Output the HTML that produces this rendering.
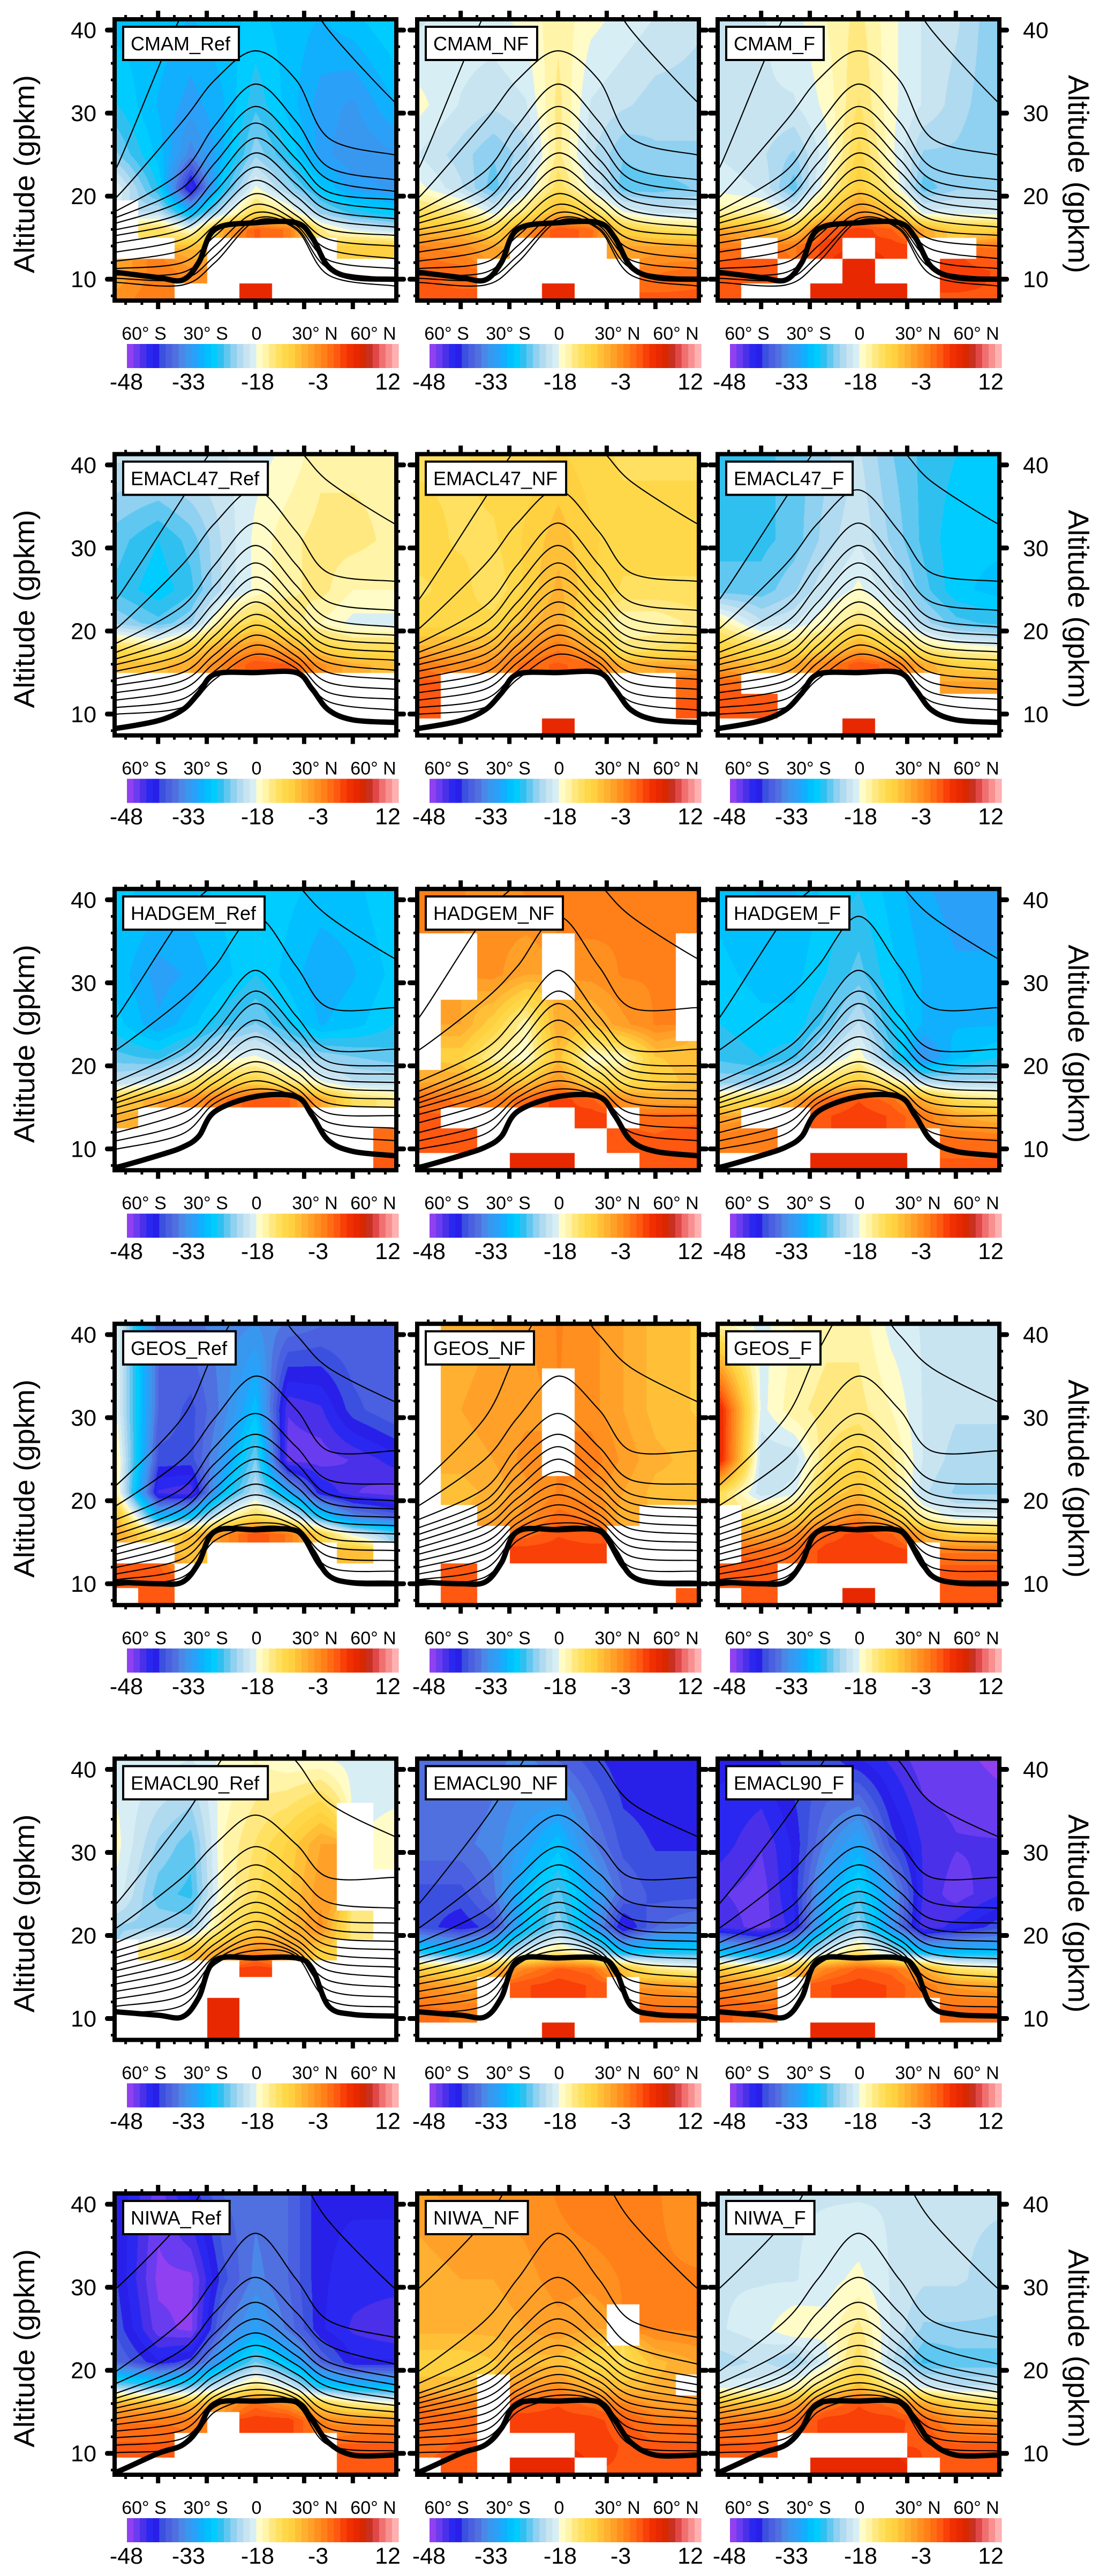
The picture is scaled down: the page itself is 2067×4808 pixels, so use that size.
<!DOCTYPE html>
<html><head><meta charset="utf-8">
<style>
html,body{margin:0;padding:0;background:#fff;}
body{width:2067px;height:4808px;position:relative;overflow:hidden;font-family:"Liberation Sans",sans-serif;}
canvas{position:absolute;}
#fig{position:absolute;left:0;top:0;}
</style></head>
<body>
<div id="canvases"></div>
<svg id="fig" width="2067" height="4808" xmlns="http://www.w3.org/2000/svg"></svg>
<script>
// ---------------- data ----------------
const N = null;
const LATS = [-85,-60,-40,-20,0,20,40,60,85];
const ALTS = [41,31,25,21,18,16,14,11,8];
const CLATS = [-85,-45,-25,0,25,45,85];
const TLATS = [-85,-60,-45,-35,-25,0,25,35,45,60,85];
const LAT_TICKS = [-60,-30,0,30,60];
const LAT_LABELS = ['60° S','30° S','0','30° N','60° N'];
const ALT_TICKS = [10,20,30,40];
const CBAR_LABELS = ['-48','-33','-18','-3','12'];
const PANEL_KINDS = ['Ref','NF','F'];

// temperature-difference fields (rows: ALTS, cols: LATS)
const CMAM_REF = [[-30,-30,-31,-30,-29,-30,-31,-30,-28],[-28,-31,-33,-31,-27,-30,-33,-34,-31],[-25,-30,-36,-31,-24,-28,-33,-35,-34],[-20,-28,-44,-28,-19,-24,-29,-33,-34],[N,-22,-30,-21,-13,-17,-24,-27,-29],[N,-14,-19,-8,-2,-4,-16,-20,-22],[N,N,-10,N,N,N,N,-12,-12],[-8,-4,-6,N,N,N,N,N,N],[-6,-4,N,N,3,N,N,N,N]];
const CMAM_NF = [[-21,-20,-20,-19,-17,-19,-20,-21,-22],[-19,-21,-22,-21,-16,-21,-22,-23,-23],[-21,-23,-25,-23,-16,-22,-25,-24,-24],[-19,-22,-26,-21,-14,-20,-26,-26,-25],[-14,-16,-20,-15,-9,-13,-19,-21,-21],[-10,-10,-13,-6,-1,-3,-12,-14,-15],[-5,-6,-8,N,N,N,-8,-8,-8],[-2,-3,N,N,N,N,N,-4,-3],[-2,-2,N,N,3,N,N,-2,-2]];
const CMAM_F = [[-21,-21,-20,-18,-16,-19,-21,-22,-25],[-21,-21,-21,-19,-15,-19,-21,-23,-25],[-21,-22,-24,-20,-13,-19,-24,-24,-25],[-20,-21,-26,-18,-11,-17,-26,-24,-24],[-17,-17,-20,-12,-6,-10,-20,-20,-20],[-8,-9,-12,-2,0,-2,-8,-12,-12],[-4,N,-4,0,N,0,N,N,-4],[-1,-1,N,N,3,N,N,0,-1],[-1,N,N,3,3,3,N,-1,-1]];
const EMACL47_REF = [[-22,-22,-21,-21,-20,-19,-17,-17,-17],[-26,-28,-26,-22,-19,-17,-16,-16,-17],[-27,-29,-27,-22,-19,-17,-16,-18,-18],[-24,-26,-24,-16,-13,-15,-18,-20,-20],[-14,-16,-12,-8,-6,-8,-12,-14,-14],[-10,-10,-8,-5,-1,-2,-6,-9,-10],[N,N,N,N,N,N,N,N,N],[N,N,N,N,N,N,N,N,N],[N,N,N,N,N,N,N,N,N]];
const EMACL47_NF = [[-14,-14,-13,-13,-12,-13,-14,-14,-14],[-13,-14,-14,-12,-10,-12,-13,-13,-13],[-14,-13,-15,-12,-9,-12,-14,-14,-14],[-13,-13,-13,-10,-8,-14,-18,-18,-16],[-9,-9,-9,-6,-4,-8,-16,-15,-13],[-4,-6,-6,-3,-2,-3,-9,-8,-8],[-2,N,N,N,N,N,N,N,-3],[-2,N,N,N,N,N,N,N,-2],[N,N,N,N,3,N,N,N,N]];
const EMACL47_F = [[-27,-27,-26,-24,-22,-25,-27,-28,-29],[-27,-27,-26,-23,-21,-24,-27,-29,-29],[-26,-26,-24,-21,-19,-22,-26,-29,-30],[-17,-22,-21,-18,-15,-18,-23,-26,-27],[-12,-14,-14,-12,-8,-12,-16,-18,-19],[-8,-10,-8,-5,-1,-3,-8,-12,-13],[-3,N,N,N,N,N,N,-8,-8],[-1,-2,N,N,N,N,N,N,N],[N,N,N,N,3,N,N,N,N]];
const HADGEM_REF = [[-29,-30,-30,-29,-28,-29,-30,-30,-28],[-30,-33,-32,-30,-28,-30,-32,-31,-29],[-29,-32,-30,-27,-25,-28,-31,-30,-28],[-26,-27,-24,-20,-19,-22,-24,-25,-26],[-22,-20,-15,-12,-12,-15,-19,-22,-22],[-12,-8,-6,-4,-1,-2,-8,-14,-16],[-9,N,N,N,N,N,N,N,N],[N,N,N,N,N,N,N,N,-3],[N,N,N,N,N,N,N,N,-2]];
const HADGEM_NF = [[-5,-5,-6,-5,-5,-4,-5,-5,-5],[N,N,-6,-8,N,-6,-5,-5,N],[N,-8,-12,-18,-8,-10,-7,-5,N],[N,-12,-17,-19,-10,-19,-18,-11,-10],[-8,-8,-11,-10,-6,-12,-14,-12,-10],[-3,-4,-5,-3,0,-2,-6,-8,-8],[-2,N,N,N,N,0,N,-3,-3],[-2,-2,N,N,N,N,-2,-2,-1],[N,N,N,3,3,N,N,-1,-1]];
const HADGEM_F = [[-30,-31,-31,-29,-28,-30,-32,-33,-33],[-29,-30,-30,-28,-26,-29,-31,-32,-32],[-28,-29,-29,-26,-22,-28,-31,-31,-31],[-27,-28,-27,-22,-18,-26,-35,-30,-28],[-24,-24,-19,-14,-11,-16,-22,-23,-23],[-15,-12,-8,-3,-1,-3,-9,-14,-16],[-8,N,N,-1,0,-1,-4,-8,-10],[-4,-4,N,N,N,N,N,-3,-3],[N,N,N,3,3,3,N,-2,-2]];
const GEOS_REF = [[-20,-38,-37,-36,-35,-37,-38,-38,-38],[-20,-38,-40,-36,-30,-45,-44,-40,-38],[-18,-40,-40,-34,-25,-46,-46,-45,-43],[-18,-44,-45,-30,-22,-32,-42,-45,-46],[-10,-30,-28,-18,-13,-18,-28,-35,-38],[-8,-14,-10,-6,-1,-4,-12,-20,-25],[N,N,-10,N,N,N,N,-10,N],[-2,-2,N,N,N,N,N,N,N],[N,-2,N,N,N,N,N,N,N]];
const GEOS_NF = [[N,-9,-8,-7,-5,-6,-8,-10,-11],[N,-8,-7,-7,N,-6,-8,-10,-11],[N,-9,-8,-6,N,-4,-7,-9,-10],[N,-10,-9,-7,-5,-6,-8,-10,-10],[N,N,-8,-6,-3,-4,-9,N,N],[N,N,N,-3,-1,-2,N,N,N],[N,N,N,0,0,0,N,N,N],[N,-2,N,N,N,N,N,N,N],[N,-2,N,N,N,N,N,N,-2]];
const GEOS_F = [[-17,-20,-18,-17,-17,-20,-21,-21,-21],[2,-20,-17,-16,-16,-18,-21,-22,-22],[2,-22,-22,-15,-13,-16,-21,-23,-23],[-14,-22,-20,-12,-10,-15,-22,-24,-24],[N,-14,-12,-8,-5,-10,-17,-20,-20],[N,-8,-6,-2,0,-2,-8,-12,-12],[N,-3,-3,0,0,0,N,-4,-4],[-1,-1,N,N,N,N,N,-1,-1],[N,-1,N,N,3,N,N,-1,-1]];
const EMACL90_REF = [[-20,-20,-21,-19,-18,-19,-19,-20,-20],[-19,-24,-26,-18,-15,-12,-8,N,-19],[-20,-26,-27,-18,-14,-11,-7,N,N],[-24,-24,-24,-15,-12,-10,-6,-16,N],[N,-14,-10,-8,-5,-7,-12,N,N],[N,N,N,N,0,N,N,N,N],[N,N,N,N,N,N,N,N,N],[N,N,N,3,N,N,N,N,N],[N,N,N,3,N,N,N,N,N]];
const EMACL90_NF = [[-38,-38,-37,-36,-38,-40,-42,-42,-42],[-37,-37,-36,-33,-30,-36,-40,-41,-41],[-40,-40,-37,-30,-26,-32,-38,-40,-40],[-40,-42,-40,-30,-24,-32,-43,-38,-36],[-28,-30,-27,-20,-16,-20,-30,-28,-28],[-12,-14,-9,-5,-2,-3,-10,-16,-18],[-6,-8,N,-1,0,-1,N,-7,-8],[-3,-4,N,N,N,N,N,-3,-3],[N,N,N,N,3,N,N,N,N]];
const EMACL90_F = [[-42,-42,-40,-40,-42,-44,-46,-46,-47],[-43,-45,-42,-36,-32,-40,-44,-45,-45],[-45,-46,-42,-32,-27,-34,-44,-46,-44],[-44,-46,-43,-30,-24,-34,-45,-43,-40],[-30,-33,-28,-20,-15,-22,-30,-30,-30],[-12,-14,-10,-5,-2,-3,-8,-15,-17],[-5,-6,N,-1,0,-1,-4,-7,-8],[-2,-3,N,N,N,N,N,-3,-3],[N,N,N,3,3,N,N,N,N]];
const NIWA_REF = [[-41,-46,-42,-38,-37,-38,-42,-42,-42],[-41,-47,-47,-40,-36,-38,-42,-43,-43],[-40,-46,-47,-37,-33,-37,-42,-44,-45],[-38,-42,-40,-32,-25,-30,-38,-42,-42],[-24,-26,-25,-20,-15,-20,-28,-30,-30],[-9,-9,-10,-7,-3,-6,-12,-16,-18],[-4,-4,-4,N,0,0,-5,-6,-6],[-2,-2,N,N,N,N,N,-2,-2],[N,N,N,N,N,N,N,-1,-1]];
const NIWA_NF = [[-7,-6,-6,-6,-5,-4,-4,-5,-6],[-9,-8,-8,-7,-6,-6,-5,-5,-5],[-9,-9,-9,-8,-7,-8,N,-5,-5],[-12,-12,-11,-10,-10,-13,-14,-10,-8],[-10,-10,N,-7,-6,-9,-10,-9,N],[-4,-5,N,-2,-1,-3,-5,-7,-8],[-3,-3,N,0,0,0,-2,-4,-4],[-3,-2,N,N,N,0,-1,-2,-2],[N,-1,N,3,3,N,-1,-1,-1]];
const NIWA_F = [[-21,-21,-21,-21,-21,-21,-22,-22,-22],[-21,-21,-21,-20,-19,-21,-22,-22,-23],[-21,-20,-18,-19,-16,-21,-24,-24,-24],[-23,-22,-24,-20,-14,-22,-27,-26,-26],[-20,-20,-18,-14,-10,-16,-20,-22,-22],[-10,-10,-8,-4,-1,-3,-8,-12,-14],[-4,-4,-3,0,0,0,-2,-6,-7],[-2,-2,N,N,N,N,-1,-2,-2],[N,N,N,3,3,3,N,-1,-1]];

// contour heights (km) at CLATS
const CONT_CMAM = [[23.7,42,46,48,46,40,31.5],[20,29,34,37.5,34,27,25],[18.3,23,28.5,33.5,29,23.5,22],[17.5,21,26,30.8,26.5,22,20.6],[16.8,19.5,24,28.8,24.5,20.5,19.6],[16,18,22,27,23,19.5,18.4],[15.3,17,20.5,25.2,21.5,18.3,17.3],[14.4,16,19,23.5,20,17.2,16.3],[13.3,14.8,17.8,21.9,18.8,16,15.3],[12.2,13.5,16.5,20.3,17.7,14.8,14],[11.3,12,15.2,19,17,13.6,12.5],[10.5,10.8,14,18,16.5,12.3,11.3],[10.1,10,12.8,17.3,16.2,11.3,10.1],[9.6,9.3,12,17,16,10.5,9.2]];
const CONT_EMACL47 = [[24,36,42,44,42,38,33],[20.4,28,33,37,32,27,26],[18.6,23,28,33,28,23.5,22.5],[17.5,21,25.5,30.3,25.5,21.5,20.5],[16.7,19.5,23.5,28.2,23.8,20.3,19.5],[16,18.3,22,26.5,22.5,19.2,18.5],[15.2,17.2,20.7,25,21.2,18.2,17.5],[14.3,16.2,19.5,23.5,20,17.2,16.5],[13.5,15,18.3,22,19,16.2,15.3],[12.6,14,17.2,20.7,18,15,14.2],[11.7,13,16.2,19.5,17,13.8,13],[10.8,11.8,15.2,18.3,16.2,12.6,11.8],[10,10.8,14.2,17.2,15.5,11.5,10.5]];
const CONT_HADGEM = [[26,38,42,47,42,38,33],[22,28,32,38,32,27,27],[18.2,22,26,31.5,26,22,22],[17,20.5,24,29,24.5,20.5,20],[16.2,19.5,22.5,27.5,23,19.5,19],[15.6,18.5,21.2,25.5,21.5,18.5,18],[15,17.5,20,23.5,20.3,17.5,17],[14.2,16.5,19,22,19.3,16.5,16],[13.2,15.5,18,20.5,18.2,15.5,15],[12,14.3,17,19.3,17.3,14.3,14],[11,13,16.2,18.2,16.6,13.2,12.5],[10,11.8,15.5,17.2,16.2,12,11]];
const CONT_GEOS = [[22,30,38,45,40,36,32],[19.5,25,30,35,31,26,26],[17.8,21.5,26.5,30.5,26.5,22.5,22],[16.8,20,24.5,28,24.5,20.8,20],[16,19,23,26.5,23,19.7,19],[15.2,18,21.5,25,21.7,18.6,18],[14.4,17,20.3,23.5,20.5,17.6,17],[13.6,16,19.2,22,19.4,16.6,16],[12.8,15,18.2,20.7,18.4,15.5,15],[12,14,17.3,19.5,17.6,14.5,14],[11.2,13,16.6,18.3,16.9,13.3,12.8],[10.5,11.8,16,17.3,16.5,12,11.5],[9.8,10.8,15.2,16.8,16.2,11,10.3]];
const CONT_EMACL90 = [[24,34,40,46,41,36,32],[21,27,31,34.5,31,27,27],[19.2,23,27,30.7,27.5,24,23.3],[18.2,21,25,28.5,25.3,22,21.5],[17.4,20,23.5,26.8,23.8,20.8,20.3],[16.6,19,22.2,25.3,22.5,19.8,19.3],[15.8,18,21,24,21.4,18.8,18.3],[15,17,20,22.8,20.4,17.8,17.2],[14.2,16,19,21.7,19.5,16.8,16.2],[13.3,15,18.2,20.7,18.8,15.8,15],[12.4,14,17.5,19.8,18.2,14.6,13.8],[11.5,12.8,17,19,17.8,13.4,12.6],[10.7,11.6,16.5,18.2,17.5,12.2,11.4]];
const CONT_NIWA = [[30,38,44,48,44,38,30],[20,26,31,36.5,31,26,24],[18.5,22.5,27,31.2,27,23,20.8],[17.3,20.5,24.5,28.2,24.5,21,19.2],[16.7,19.5,23,26.2,23,20,18.3],[16.1,18.5,21.7,24.5,21.8,19,17.4],[15.5,17.6,20.5,23,20.7,18,16.6],[14.9,16.7,19.4,21.7,19.6,17,15.8],[14.2,15.8,18.5,20.5,18.7,16,15],[13.5,14.8,17.6,19.5,17.8,15,14.2],[12.7,13.8,16.9,18.5,17.1,14,13.3],[11.9,12.8,16.3,17.7,16.6,13,12.3],[11,11.8,15.6,17,16.2,12,11.3],[10.1,10.8,15,16.5,15.9,11,10.3]];

// tropopause heights (km) at TLATS
const TROP_CMAM = [10.8,10.2,9.9,12,16,16.8,16.8,15,11.5,10.2,10];
const TROP_EMACL47 = [8.3,9.2,10.5,12.5,14.8,15,15,13,10.5,9.3,9];
const TROP_HADGEM = [7.8,9.2,10.2,11.5,14.5,16.3,16.3,14,11,9.7,9.2];
const TROP_GEOS = [10.2,10,10.2,12.5,16.3,16.5,16.4,14,11,10.1,10];
const TROP_EMACL90 = [10.8,10.4,10.2,12.5,17,17.3,17.3,16,11.5,10.5,10.3];
const TROP_NIWA = [7.8,10,11,13,16,16.3,16.2,14,11.3,9.8,9.8];

const MODELS = ['CMAM','EMACL47','HADGEM','GEOS','EMACL90','NIWA'];
const FIELDS = [[CMAM_REF,CMAM_NF,CMAM_F],[EMACL47_REF,EMACL47_NF,EMACL47_F],[HADGEM_REF,HADGEM_NF,HADGEM_F],[GEOS_REF,GEOS_NF,GEOS_F],[EMACL90_REF,EMACL90_NF,EMACL90_F],[NIWA_REF,NIWA_NF,NIWA_F]];
const CONTS = [CONT_CMAM,CONT_EMACL47,CONT_HADGEM,CONT_GEOS,CONT_EMACL90,CONT_NIWA];
const TROPS = [TROP_CMAM,TROP_EMACL47,TROP_HADGEM,TROP_GEOS,TROP_EMACL90,TROP_NIWA];

// ---------------- style ----------------
const PALETTE = ['#9040f0','#6a3cf0','#4a30e8','#2a28f0','#2820e8','#3c50e0','#4a60e0','#5070e0','#4a88e8','#3898f0','#2aa0f8','#10b0ff','#00c0ff','#00ccff','#30c0f0','#60c8f0','#90d0f0','#b0daf0','#c8e4f0','#d8eef5','#fffcc8','#fff4a8','#ffe880','#ffe060','#ffd84a','#ffd040','#ffc038','#ffb030','#ffa028','#ff9020','#ff8018','#ff6c14','#ff5810','#f84008','#f03000','#e82800','#d82800','#c83020','#e04848','#f07070','#f89090','#ffb0b0'];
const VMIN=-48, VMAX=12;
const COLX=[214,779,1340], ROW0=36, ROWH=811.6, PW=526, PH=525;
const ALT_TOP=41.3, PXKM=15.5, PXDEG=3.03;

const svg=document.getElementById('fig');
const NS='http://www.w3.org/2000/svg';
function el(tag,attrs,parent){const e=document.createElementNS(NS,tag);for(const k in attrs)e.setAttribute(k,attrs[k]);(parent||svg).appendChild(e);return e;}

function xs(x0,lat){return x0+PW/2+lat*PXDEG;}
function ys(y0,alt){return y0+(ALT_TOP-alt)*PXKM;}

function hexrgb(h){return [parseInt(h.substr(1,2),16),parseInt(h.substr(3,2),16),parseInt(h.substr(5,2),16)];}
const PAL_RGB=PALETTE.map(hexrgb);

function sampleField(grid,lat,alt){
  let i=0; while(i<LATS.length-2 && lat>LATS[i+1]) i++;
  let j=0; while(j<ALTS.length-2 && alt<ALTS[j+1]) j++;
  let tx=(lat-LATS[i])/(LATS[i+1]-LATS[i]); tx=Math.max(0,Math.min(1,tx));
  let ty=(ALTS[j]-alt)/(ALTS[j]-ALTS[j+1]); ty=Math.max(0,Math.min(1,ty));
  const ni=tx<0.5?i:i+1, nj=ty<0.5?j:j+1;
  if(grid[nj][ni]===null) return null;
  const pts=[[j,i,(1-tx)*(1-ty)],[j,i+1,tx*(1-ty)],[j+1,i,(1-tx)*ty],[j+1,i+1,tx*ty]];
  let s=0,w=0;
  for(const p of pts){const v=grid[p[0]][p[1]]; if(v!==null){s+=v*p[2];w+=p[2];}}
  return w>0?s/w:grid[nj][ni];
}

function drawField(grid,x0,y0,name){
  const c=document.createElement('canvas');
  c.width=PW;c.height=PH;c.style.left=x0+'px';c.style.top=y0+'px';
  
  
  document.getElementById('canvases').appendChild(c);
  const ctx=c.getContext('2d');
  const img=ctx.createImageData(PW,PH);
  for(let py=0;py<PH;py++){
    const alt=ALT_TOP-py/PXKM;
    for(let px=0;px<PW;px++){
      const lat=(px-PW/2)/PXDEG;
      const v=sampleField(grid,lat,alt);
      let r=255,g=255,b=255;
      if(v!==null){
        let k=Math.floor((v-VMIN)/(VMAX-VMIN)*PALETTE.length);
        k=Math.max(0,Math.min(PALETTE.length-1,k));
        [r,g,b]=PAL_RGB[k];
      }
      const o=(py*PW+px)*4;
      img.data[o]=r;img.data[o+1]=g;img.data[o+2]=b;img.data[o+3]=255;
    }
  }
  ctx.putImageData(img,0,0);
}

function smoothPath(pts){
  let d='M'+pts[0][0].toFixed(1)+','+pts[0][1].toFixed(1);
  for(let i=0;i<pts.length-1;i++){
    const p0=pts[Math.max(0,i-1)],p1=pts[i],p2=pts[i+1],p3=pts[Math.min(pts.length-1,i+2)];
    const c1=[p1[0]+(p2[0]-p0[0])/6,p1[1]+(p2[1]-p0[1])/6];
    const c2=[p2[0]-(p3[0]-p1[0])/6,p2[1]-(p3[1]-p1[1])/6];
    d+=' C'+c1[0].toFixed(1)+','+c1[1].toFixed(1)+' '+c2[0].toFixed(1)+','+c2[1].toFixed(1)+' '+p2[0].toFixed(1)+','+p2[1].toFixed(1);
  }
  return d;
}
function linePts(x0,y0,lats,hs){
  const pts=lats.map((l,i)=>[xs(x0,l),ys(y0,hs[i])]);
  pts.unshift([xs(x0,-90),ys(y0,hs[0])]);
  pts.push([xs(x0,90),ys(y0,hs[hs.length-1])]);
  return pts;
}

let clipId=0;
for(let r=0;r<6;r++){
  const y0=ROW0+r*ROWH;
  for(let c=0;c<3;c++){
    const x0=COLX[c];
    const label=MODELS[r]+'_'+PANEL_KINDS[c];
    const slug=label.toLowerCase().replace('_','-');
    drawField(FIELDS[r][c],x0,y0,slug);
    const g=el('g',{});
    
    
    const cid='clip'+(clipId++);
    const cp=el('clipPath',{id:cid},g); el('rect',{x:x0,y:y0,width:PW,height:PH},cp);
    const lg=el('g',{'clip-path':'url(#'+cid+')'},g);
    
    
    CONTS[r].forEach((hs,k)=>{
      const p=el('path',{d:smoothPath(linePts(x0,y0,CLATS,hs)),fill:'none',stroke:'#000','stroke-width':2.2},lg);
      
      
    });
    const tp=el('path',{d:smoothPath(linePts(x0,y0,TLATS,TROPS[r])),fill:'none',stroke:'#000','stroke-width':10,'stroke-linejoin':'round'},lg);
    
    
    // frame
    const fr=el('rect',{x:x0,y:y0,width:PW,height:PH,fill:'none',stroke:'#000','stroke-width':8},g);
    
    
    // lat ticks
    for(let lat=-80;lat<=80;lat+=10){
      const x=xs(x0,lat); const maj=LAT_TICKS.indexOf(lat)>=0;
      const L=maj?16:8, W=maj?8:5;
      el('rect',{x:x-W/2,y:y0-L,width:W,height:L,fill:'#000'},g);
      el('rect',{x:x-W/2,y:y0+PH,width:W,height:L,fill:'#000'},g);
    }
    // alt ticks
    for(let a=8;a<=40;a+=2){
      const y=ys(y0,a); const maj=ALT_TICKS.indexOf(a)>=0;
      const L=maj?18:7, H=maj?9:5;
      el('rect',{x:x0-L,y:y-H/2,width:L,height:H,fill:'#000',rx:maj?4:0},g);
      el('rect',{x:x0+PW,y:y-H/2,width:L,height:H,fill:'#000',rx:maj?4:0},g);
    }
    // lat labels
    const LOFF=[55,170,265,374,483];
    LAT_LABELS.forEach((t,k)=>{
      const tx=el('text',{x:x0+LOFF[k],y:y0+598,'font-size':34,'text-anchor':'middle',fill:'#000'},g);
      tx.textContent=t;
      
      
    });
    // colorbar
    const cb=el('g',{},g);
    
    
    const cbx=x0+23, cbw=507, sw=cbw/PALETTE.length;
    PALETTE.forEach((col,k)=>{
      el('rect',{x:cbx+k*sw,y:y0+606,width:sw+0.6,height:45,fill:col},cb);
    });
    const COFF=[22,138,267,380,510];
    CBAR_LABELS.forEach((t,k)=>{
      const tx=el('text',{x:x0+COFF[k],y:y0+691,'font-size':43,'text-anchor':'middle',fill:'#000'},cb);
      tx.textContent=t;
      
      
    });
    // label box
    const bx=el('rect',{x:x0+16,y:y0+14,width:200,height:62,fill:'#fff',stroke:'#000','stroke-width':4},g);
    
    
    const lt=el('text',{x:x0+30,y:y0+58,'font-size':36,fill:'#000'},g);
    lt.textContent=label;
    
    
    bx.setAttribute('width',lt.getComputedTextLength()+30);
    // y labels
    if(c===0||c===2){
      ALT_TICKS.forEach(a=>{
        const tx=el('text',{x:c===0?x0-34:x0+PW+44,y:ys(y0,a)+15,'font-size':43,'text-anchor':c===0?'end':'start',fill:'#000'},g);
        tx.textContent=String(a);
        
        
      });
      const yt=el('text',{'font-size':54,'text-anchor':'middle',fill:'#000',textLength:370,lengthAdjust:'spacingAndGlyphs',
        transform:c===0?'translate(64,'+(y0+289)+') rotate(-90)':'translate(1995,'+(y0+289)+') rotate(90)'},g);
      yt.textContent='Altitude (gpkm)';
      
      
    }
  }
}
</script>
</body></html>
